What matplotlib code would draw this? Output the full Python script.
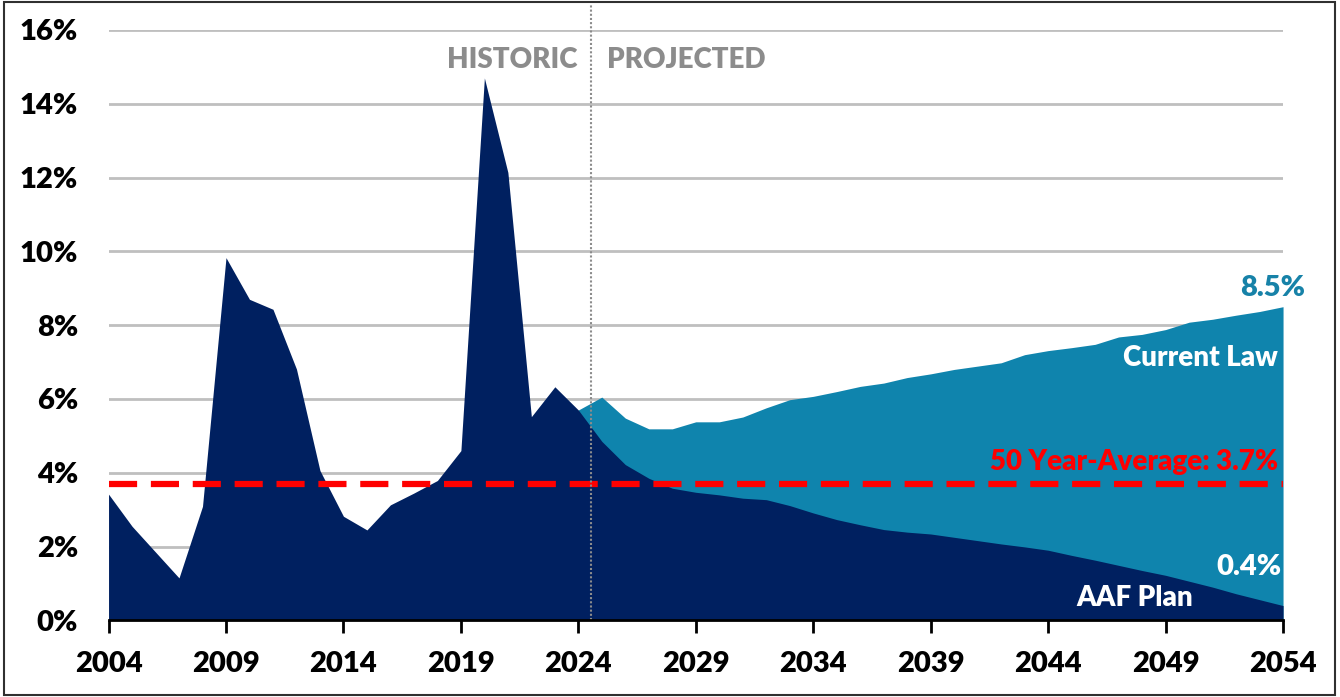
import matplotlib
matplotlib.use("Agg")
import matplotlib.pyplot as plt
from matplotlib.patches import Rectangle
import numpy as np

plt.rcParams["font.family"] = ["Lato", "DejaVu Sans"]
plt.rcParams["font.weight"] = "heavy"

# 历史 + AAF 方案（2004-2054）
years = np.arange(2004, 2055)
aaf_plan = [
    3.42, 2.55, 1.85, 1.15, 3.09, 9.83, 8.70, 8.43, 6.81, 4.06,
    2.82, 2.45, 3.13, 3.45, 3.79, 4.60, 14.70, 12.14, 5.52, 6.33,
    5.70, 4.85, 4.22, 3.85, 3.58, 3.47, 3.40, 3.31, 3.27, 3.11,
    2.91, 2.73, 2.59, 2.46, 2.39, 2.34, 2.25, 2.16, 2.07, 1.99,
    1.90, 1.76, 1.63, 1.49, 1.35, 1.22, 1.06, 0.90, 0.72, 0.56,
    0.40,
]

# 现行法律预测（2024-2054）
proj_years = np.arange(2024, 2055)
current_law = [
    5.70, 6.05, 5.48, 5.19, 5.19, 5.38, 5.38, 5.51, 5.76, 5.98,
    6.07, 6.20, 6.34, 6.43, 6.58, 6.68, 6.80, 6.89, 6.98, 7.20,
    7.31, 7.39, 7.48, 7.68, 7.75, 7.88, 8.08, 8.16, 8.27, 8.37,
    8.50,
]

avg_50yr = 3.7
split_year = 2024.55
y_ticks = np.arange(0, 17, 2)
x_ticks = np.arange(2004, 2055, 5)

NAVY = "#002060"
TEAL = "#0F84AD"
RED = "#FF0000"
GRAY = "#8C8C8C"
W = "heavy"

fig = plt.figure(figsize=(13.4, 6.97), dpi=100)
ax = fig.add_axes([0.081, 0.110, 0.8765, 0.847])

ax.fill_between(proj_years, 0, current_law, color=TEAL, lw=0, zorder=2)
ax.fill_between(years, 0, aaf_plan, color=NAVY, lw=0, zorder=3)

# 网格线（0% 处用坐标轴线代替）
for yv in y_ticks[1:]:
    ax.axhline(yv, color="#BFBFBF", lw=2, zorder=1)

ax.axhline(avg_50yr, color=RED, lw=4.5, ls=(0, (4.5, 2.2)), zorder=4)
ax.plot([split_year, split_year], [0, 16.7], color="#8C8C8C", lw=1.5,
        ls=(0, (1, 1)), zorder=5, clip_on=False)

ax.set_xlim(2004, 2054)
ax.set_ylim(0, 16)
ax.set_xticks(x_ticks)
ax.set_yticks(y_ticks)
ax.set_yticklabels([f"{v}%" for v in y_ticks])
ax.tick_params(axis="x", length=9, width=2, pad=13, labelsize=21)
ax.tick_params(axis="y", length=0, pad=22, labelsize=21)
for lab in ax.get_xticklabels() + ax.get_yticklabels():
    lab.set_fontweight(W)

for side in ["top", "right", "left"]:
    ax.spines[side].set_visible(False)
ax.spines["bottom"].set_linewidth(2)
ax.spines["bottom"].set_zorder(6)

ax.text(2023.96, 15.18, "HISTORIC", color=GRAY, fontsize=20, fontweight=W,
        ha="right", va="center")
ax.text(2025.24, 15.18, "PROJECTED", color=GRAY, fontsize=20, fontweight=W,
        ha="left", va="center")
ax.text(2054.96, 9.0, f"{current_law[-1]:.1f}%", color="#1782A8", fontsize=21,
        fontweight=W, ha="right", va="center", clip_on=False)
ax.text(2053.8, 7.1, "Current Law", color="white", fontsize=20,
        fontweight=W, ha="right", va="center", zorder=6)
ax.text(2053.8, 4.28, f"50 Year-Average: {avg_50yr}%", color=RED, fontsize=20,
        fontweight=W, ha="right", va="center", zorder=6)
ax.text(2053.95, 1.44, f"{aaf_plan[-1]:.1f}%", color="white", fontsize=21,
        fontweight=W, ha="right", va="center", zorder=6)
ax.text(2047.7, 0.6, "AAF Plan", color="white", fontsize=20,
        fontweight=W, ha="center", va="center", zorder=6)

# 外框
fig.add_artist(Rectangle((0.003, 0.003), 0.993, 0.994, transform=fig.transFigure,
                         fill=False, edgecolor="#303030", lw=1.5))

fig.savefig("out.png", dpi=100)
